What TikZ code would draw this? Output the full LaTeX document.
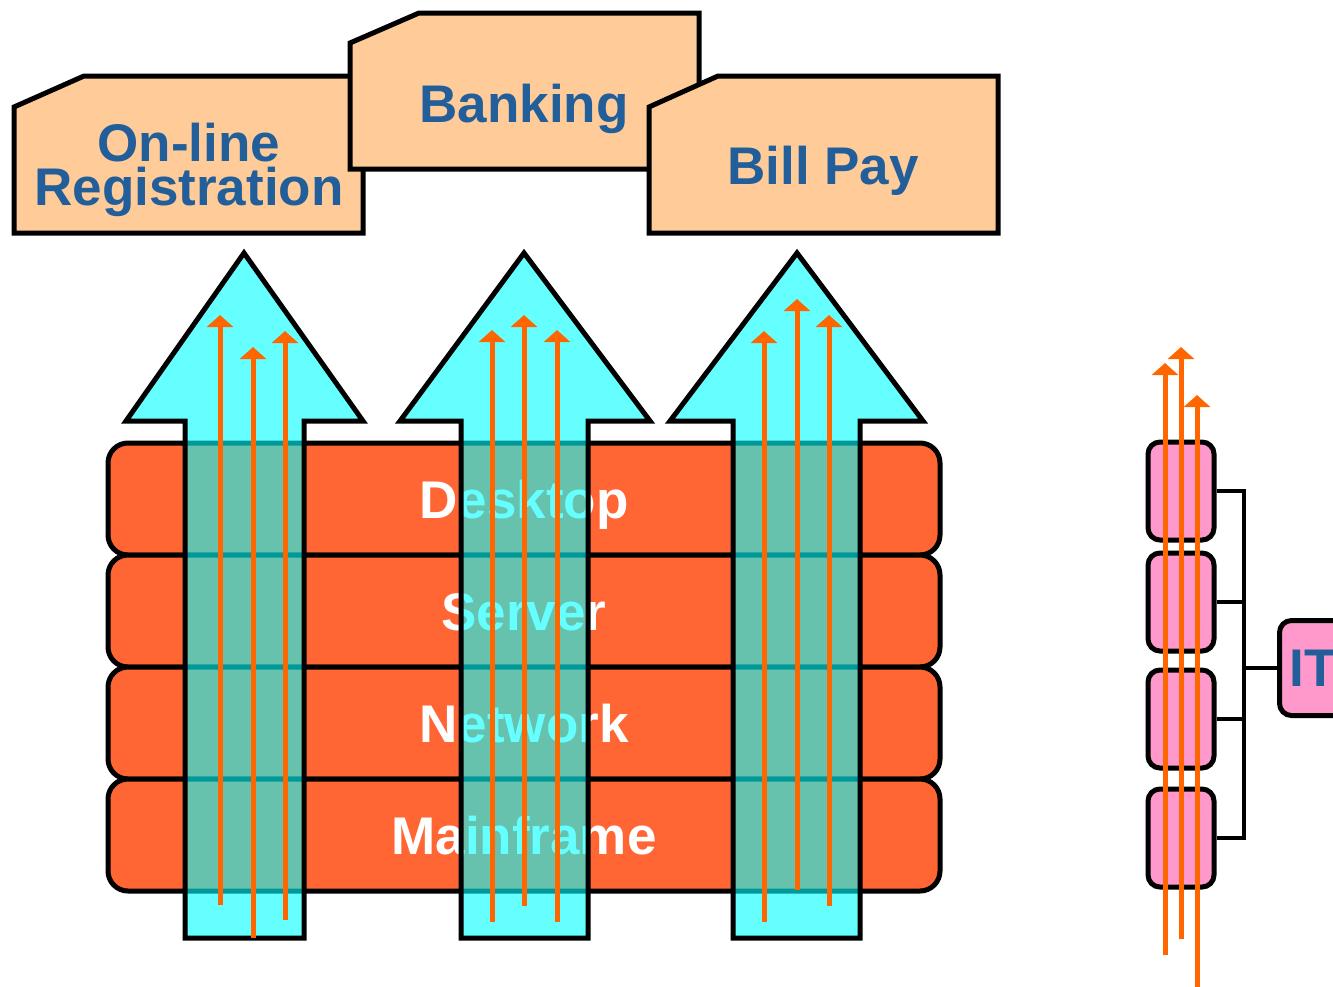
\documentclass[tikz,border=0pt]{standalone}
\usepackage{fontspec}
\setmainfont{Liberation Sans}
\usetikzlibrary{arrows.meta}
\definecolor{peach}{HTML}{FFCC99}
\definecolor{ttblue}{HTML}{215E9A}
\definecolor{brick}{HTML}{FF6633}
\definecolor{flow}{HTML}{FF6600}
\definecolor{rosy}{HTML}{FF99CC}
\definecolor{sky}{HTML}{00FFFF}
\begin{document}
\begin{tikzpicture}[x=1pt,y=-1pt,
  tab/.style={draw=black, line width=5pt, line join=miter, fill=peach},
  tablabel/.style={text=ttblue, font=\fontsize{53}{44}\selectfont\bfseries, align=center, inner sep=0pt},
  layer/.style={draw=black, line width=5pt, fill=brick, rounded corners=20pt,
    minimum width=832pt, minimum height=112pt, text=white,
    font=\fontsize{53}{60}\selectfont\bfseries, inner sep=0pt, text height=38pt, text depth=0pt},
  bigarrow/.style={draw=black, line width=5pt, line join=miter, fill=sky, fill opacity=0.6, draw opacity=1},
  flowarrow/.style={draw=flow, line width=5pt, -{Triangle[width=26pt,length=12pt]}},
  unit/.style={draw=black, line width=5pt, fill=rosy, rounded corners=12pt,
    minimum width=66pt, minimum height=98pt, inner sep=0pt},
  link/.style={draw=black, line width=4pt}
]
\useasboundingbox (0,0) rectangle (1333,986);
\clip (0,0) rectangle (1333,986);

% application tabs
\draw[tab] (14,107) -- (84,76) -- (363,76) -- (363,233) -- (14,233) -- cycle;
\node[tablabel] (reg) at (189,170) {On-line\\Registration};
\draw[tab] (350,43) -- (419,13) -- (699,13) -- (699,169) -- (350,169) -- cycle;
\node[tablabel, anchor=base] (bank) at (524,122) {Banking};
\draw[tab] (649,107) -- (718,76) -- (998,76) -- (998,233) -- (649,233) -- cycle;
\node[tablabel, anchor=base] (bill) at (823,184) {Bill Pay};

% infrastructure layers
\node[layer] (desk) at (524,499) {Desktop};
\node[layer] (serv) at (524,611) {Server};
\node[layer] (net)  at (524,723) {Network};
\node[layer] (main) at (524,835) {Mainframe};

% vertical service arrows
\path[bigarrow] (185,938) -- (185,421) -- (126,421) -- (244,253) -- (363,421) -- (304,421) -- (304,938) -- cycle;
\path[bigarrow] (461,938) -- (461,421) -- (400,421) -- (524,253) -- (650,421) -- (588,421) -- (588,938) -- cycle;
\path[bigarrow] (733,938) -- (733,421) -- (670,421) -- (797,253) -- (923,421) -- (860,421) -- (860,938) -- cycle;

% flows through each service
\coordinate (a1b) at (220,905); \coordinate (a1t) at (220,315);
\coordinate (a2b) at (253,938); \coordinate (a2t) at (253,347);
\coordinate (a3b) at (285,920); \coordinate (a3t) at (285,331);
\coordinate (b1b) at (492,922); \coordinate (b1t) at (492,330);
\coordinate (b2b) at (524,906); \coordinate (b2t) at (524,315);
\coordinate (b3b) at (557,922); \coordinate (b3t) at (557,330);
\coordinate (c1b) at (764,922); \coordinate (c1t) at (764,331);
\coordinate (c2b) at (797,890); \coordinate (c2t) at (797,299);
\coordinate (c3b) at (829,906); \coordinate (c3t) at (829,315);
\foreach \p in {a1,a2,a3,b1,b2,b3,c1,c2,c3}
  \draw[flowarrow] (\p b) -- (\p t);

% IT stack
\node[unit] (u1) at (1181,491) {};
\node[unit] (u2) at (1181,602) {};
\node[unit] (u3) at (1181,719) {};
\node[unit] (u4) at (1181,838) {};
\node[unit, anchor=west, minimum width=120pt, minimum height=95pt, text=ttblue,
  font=\fontsize{53}{60}\selectfont\bfseries, text width=100pt, align=left,
  inner xsep=10pt] (it) at (1277,668) {IT};
\coordinate (busT) at (1244,491);
\coordinate (busB) at (1244,838);
\draw[link] (u1.east) -- (busT) -- (busB) -- (u4.east);
\draw[link] (u2.east) -- (u2.east -| busT);
\draw[link] (u3.east) -- (u3.east -| busT);
\draw[link] (it.west) -- (it.west -| busT);

\coordinate (d1b) at (1165,955); \coordinate (d1t) at (1165,363);
\coordinate (d2b) at (1181,939); \coordinate (d2t) at (1181,347);
\coordinate (d3b) at (1197,995); \coordinate (d3t) at (1197,395);
\foreach \p in {d1,d2,d3}
  \draw[flowarrow] (\p b) -- (\p t);
\end{tikzpicture}
\end{document}
